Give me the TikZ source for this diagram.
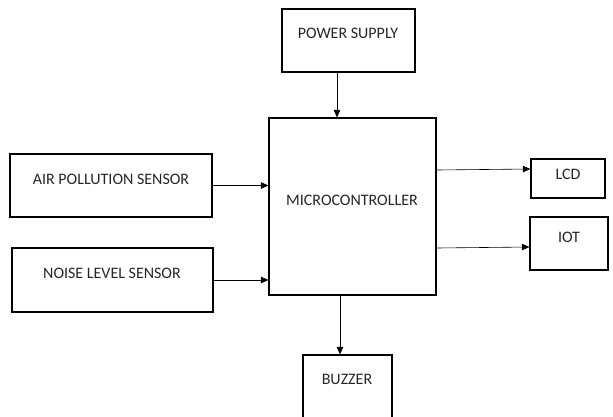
\documentclass[tikz,border=0pt]{standalone}
\usepackage{fontspec}
\setmainfont{Carlito}
\usetikzlibrary{arrows.meta,calc}

\begin{document}
\begin{tikzpicture}[x=1pt, y=-1pt,
		blk/.style={draw, line width=1.2pt, rectangle, inner sep=0pt},
		txt/.style={inner sep=0pt, text=black!85, font=\fontsize{16}{19}\selectfont},
		arr/.style={draw, line width=0.6pt, -{Triangle[length=7.5pt,width=6.5pt]}}]
	\useasboundingbox (0,0) rectangle (613,416);
	% blocks
	\node[blk, minimum width=133pt, minimum height=63pt](ps) at (348.5,40.5) {};
	\node[blk, minimum width=167pt, minimum height=177pt](mc) at (352.5,206.5) {};
	\node[blk, minimum width=202pt, minimum height=63pt](air) at (111,185.5) {};
	\node[blk, minimum width=201pt, minimum height=64pt](noise) at (112.5,280) {};
	\node[blk, minimum width=74pt, minimum height=39pt](lcd) at (568,178.5) {};
	\node[blk, minimum width=78pt, minimum height=53pt](iot) at (569,243.5) {};
	% buzzer box runs past the lower edge
	\begin{scope}
		\clip (0,0) rectangle (613,416);
		\node[blk, minimum width=89pt, minimum height=70pt](buz) at (347.5,390) {};
	\end{scope}
	% labels
	\node[txt](psT) at (348,33) {POWER SUPPLY};
	\node[txt](mcT) at (352,200) {MICROCONTROLLER};
	\node[txt](airT) at (111,179) {AIR POLLUTION SENSOR};
	\node[txt](noiseT) at (112,273) {NOISE LEVEL SENSOR};
	\node[txt](lcdT) at (568,174) {LCD};
	\node[txt](iotT) at (569,237) {IOT};
	\node[txt](buzT) at (347,379) {BUZZER};
	% connections
	\draw[arr] ($(ps.south)+(-11.5,0)$) -- ($(mc.north)+(-15.5,0)$);
	\draw[arr] (air.east) -- (mc.west |- air.east);
	\draw[arr] (noise.east) -- (mc.west |- noise.east);
	\draw[arr] ($(mc.east |- lcd.west)+(0,-8.5)$) -- ($(lcd.west)+(0,-9.5)$);
	\draw[arr] ($(mc.east |- iot.west)+(0,4.5)$) -- ($(iot.west)+(0,3.5)$);
	\draw[arr] ($(mc.south)+(-12.5,0)$) -- ($(buz.north)+(-7.5,0)$);
\end{tikzpicture}
\end{document}
